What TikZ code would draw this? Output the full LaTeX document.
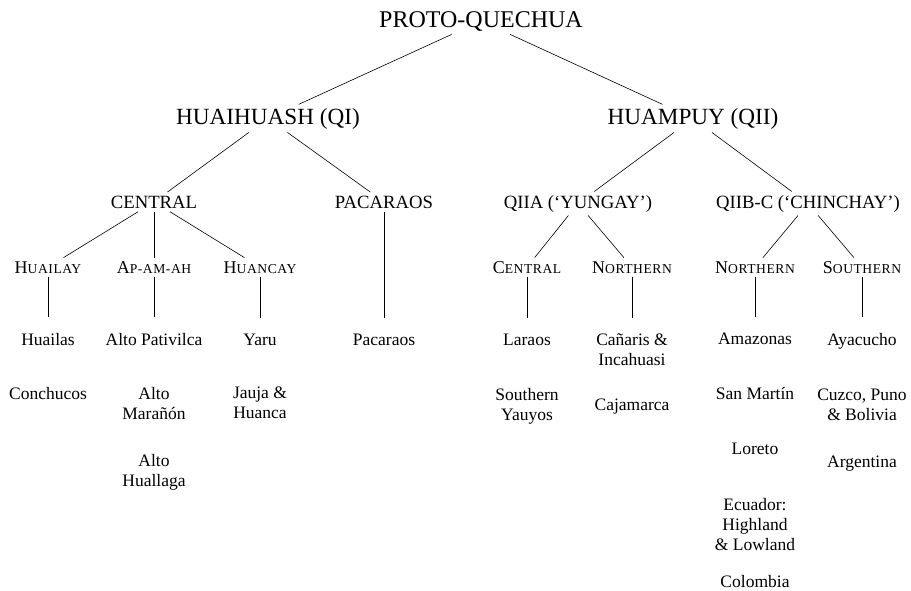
\documentclass[tikz,border=0pt]{standalone}
\usepackage{fontspec}
\setmainfont{Liberation Serif}
\newcommand\fakesc[2]{#1{\fontsize{13.6}{15}\selectfont\addfontfeature{LetterSpace=4}#2}}
\begin{document}
\begin{tikzpicture}[x=1pt,y=-1pt,
  lzero/.style={font=\fontsize{24}{28}\selectfont, anchor=base},
  lone/.style={font=\fontsize{23.2}{28}\selectfont, anchor=base},
  ltwo/.style={font=\fontsize{18.7}{22}\selectfont, anchor=base},
  lthree/.style={font=\fontsize{18}{21}\selectfont, anchor=base},
  leaf/.style={font=\fontsize{17.5}{20}\selectfont, align=center, anchor=base},
  edge/.style={draw=black, line width=0.6pt},
  stem/.style={edge, shorten >=12pt}]
\useasboundingbox (0,0) rectangle (911,590);
% levels
\node[lzero] (root) at (481,27) {PROTO-QUECHUA};
\node[lone] (qi) at (268,124) {HUAIHUASH (QI)};
\node[lone] (qii) at (693,124) {HUAMPUY (QII)};
\node[ltwo] (central) at (154,208) {CENTRAL};
\node[ltwo] (pacaraos) at (384,208) {PACARAOS};
\node[ltwo] (qiia) at (578,208) {QIIA (`YUNGAY')};
\node[ltwo] (qiib) at (808,208) {QIIB-C (`CHINCHAY')};
\node[lthree] (huailay) at (48,273) {\fakesc{H}{UAILAY}};
\node[lthree] (apamah) at (154,273) {\fakesc{A}{P-AM-AH}};
\node[lthree] (huancay) at (260,273) {\fakesc{H}{UANCAY}};
\node[lthree] (centr) at (527,273) {\fakesc{C}{ENTRAL}};
\node[lthree] (northa) at (632,273) {\fakesc{N}{ORTHERN}};
\node[lthree] (northb) at (755,273) {\fakesc{N}{ORTHERN}};
\node[lthree] (south) at (862,273) {\fakesc{S}{OUTHERN}};
% leaves (base = baseline of the last line)
\node[leaf] (huailas) at (48,345) {Huailas};
\node[leaf] (conchucos) at (48,399) {Conchucos};
\node[leaf] (altopat) at (154,345) {Alto Pativilca};
\node[leaf] (altomar) at (154,419) {Alto\\Marañón};
\node[leaf] (altohual) at (154,486) {Alto\\Huallaga};
\node[leaf] (yaru) at (260,345) {Yaru};
\node[leaf] (jauja) at (260,418) {Jauja \&\\Huanca};
\node[leaf] (pacleaf) at (384,345) {Pacaraos};
\node[leaf] (laraos) at (527,345) {Laraos};
\node[leaf] (southy) at (527,420) {Southern\\Yauyos};
\node[leaf] (canaris) at (632,365) {Cañaris \&\\Incahuasi};
\node[leaf] (cajamarca) at (632,410) {Cajamarca};
\node[leaf] (amazonas) at (755,344) {Amazonas};
\node[leaf] (sanmartin) at (755,399) {San Martín};
\node[leaf] (loreto) at (755,454) {Loreto};
\node[leaf] (ecuador) at (755,550) {Ecuador:\\Highland\\\& Lowland};
\node[leaf] (colombia) at (755,587) {Colombia};
\node[leaf] (ayacucho) at (862,345) {Ayacucho};
\node[leaf] (cuzco) at (862,420) {Cuzco, Puno\\\& Bolivia};
\node[leaf] (argentina) at (862,467) {Argentina};
% edges
\draw[edge] (root) -- (qi);
\draw[edge] (root) -- (qii);
\draw[edge] (qi) -- (central);
\draw[edge] (qi) -- (pacaraos);
\draw[edge] (qii) -- (qiia);
\draw[edge] (qii) -- (qiib);
\draw[edge] (central) -- (huailay);
\draw[edge] (central) -- (apamah);
\draw[edge] (central) -- (huancay);
\draw[edge] (qiia) -- (centr);
\draw[edge] (qiia) -- (northa);
\draw[edge] (qiib) -- (northb);
\draw[edge] (qiib) -- (south);
% stems
\draw[stem] (huailay) -- (huailas);
\draw[stem] (apamah) -- (altopat);
\draw[stem] (huancay) -- (yaru);
\draw[stem] (pacaraos) -- (pacleaf);
\draw[stem] (centr) -- (laraos);
\draw[stem] (northa) -- (canaris);
\draw[stem] (northb) -- (amazonas);
\draw[stem] (south) -- (ayacucho);
\end{tikzpicture}
\end{document}
